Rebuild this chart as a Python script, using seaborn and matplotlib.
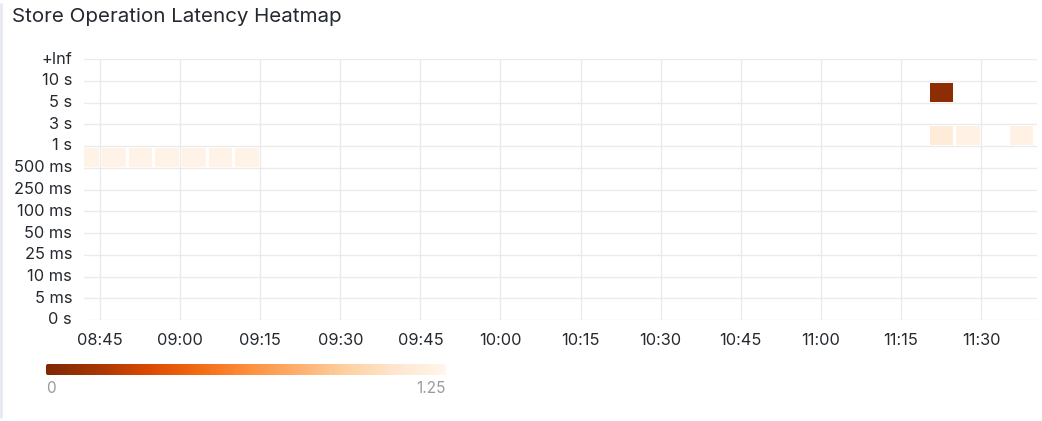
import numpy as np
import pandas as pd
import matplotlib
matplotlib.use("Agg")
import matplotlib.pyplot as plt
from matplotlib.patches import FancyBboxPatch
import seaborn as sns

# ---- data ----
bucket_bounds = ["+Inf", "10 s", "5 s", "3 s", "1 s", "500 ms", "250 ms", "100 ms",
                 "50 ms", "25 ms", "10 ms", "5 ms", "0 s"]
# rows top->bottom: bucket between bound[i+1] and bound[i]
buckets = [f"{bucket_bounds[i+1]}–{bucket_bounds[i]}" for i in range(len(bucket_bounds) - 1)]
time_slots = [f"{h:02d}:{m:02d}" for h in range(8, 12) for m in range(0, 60, 5)
              if "08:40" <= f"{h:02d}:{m:02d}" <= "11:35"]
tick_labels = ["08:45", "09:00", "09:15", "09:30", "09:45", "10:00", "10:15",
               "10:30", "10:45", "11:00", "11:15", "11:30"]

cell_times = ["08:40", "08:45", "08:50", "08:55", "09:00", "09:05", "09:10",
              "11:20", "11:20", "11:25", "11:35"]
cell_buckets = ["500 ms–1 s"] * 7 + ["5 s–10 s", "1 s–3 s", "1 s–3 s", "1 s–3 s"]
cell_values = [1.22, 1.22, 1.22, 1.22, 1.22, 1.22, 1.22, 0.06, 1.15, 1.21, 1.21]
scale_min, scale_max = 0, 1.25

df = pd.DataFrame(np.nan, index=buckets, columns=time_slots)
for t, b, v in zip(cell_times, cell_buckets, cell_values):
    df.loc[b, t] = v

# ---- style ----
sns.set_theme(style="white")
plt.rcParams["font.family"] = ["Inter", "DejaVu Sans"]
text_col = "#24292f"
grid_col = "#ebebeb"

fig = plt.figure(figsize=(10.42, 4.21), dpi=100)
W, H = 1042, 421
ax = fig.add_axes([84 / W, 1 - 320 / H, (1037 - 84) / W, (320 - 59) / H])
cax = fig.add_axes([46 / W, 1 - 375 / H, 400 / W, 11 / H])

sns.heatmap(df, ax=ax, cmap="Oranges_r", vmin=scale_min, vmax=scale_max,
            linewidths=0.75, linecolor="white", cbar_ax=cax,
            cbar_kws={"orientation": "horizontal"})

# only draw the white cell separators around filled cells
mesh = ax.collections[0]
filled = ~np.isnan(df.values.ravel())
edge = np.zeros((filled.size, 4))
edge[filled] = [1, 1, 1, 1]
mesh.set_edgecolor(edge)
mesh.set_zorder(1)

# x axis: time ticks at slot boundaries
slot_index = {t: i for i, t in enumerate(time_slots)}
ax.set_xticks([slot_index[t] for t in tick_labels])
ax.set_xticklabels(tick_labels, rotation=0)
ax.set_xlim(0.4, 36.1)
# y axis: bucket boundaries
ax.set_yticks(range(len(bucket_bounds)))
ax.set_yticklabels(bucket_bounds, rotation=0)
ax.set_ylim(len(buckets), 0)
ax.set_xlabel("")
ax.set_ylabel("")

ax.set_axisbelow(False)
ax.grid(True, color=grid_col, linewidth=1)
for sp in ax.spines.values():
    sp.set_visible(False)
ax.tick_params(axis="both", length=3.6, width=0.75, color=grid_col, labelsize=11.8,
               labelcolor=text_col)
ax.tick_params(axis="y", pad=5)
ax.tick_params(axis="x", pad=5.5)

# colorbar
cb = mesh.colorbar
cb.outline.set_visible(False)
cb.set_ticks([scale_min, scale_max])
cb.set_ticklabels(["0", "1.25"])
cax.tick_params(length=0, labelsize=11, labelcolor="#9a9a9a", pad=4)
labs = cax.get_xticklabels()
labs[0].set_horizontalalignment("left")
labs[1].set_horizontalalignment("right")
clip = FancyBboxPatch((0, 0), 1, 1, boxstyle="round,pad=0,rounding_size=0.006",
                      mutation_aspect=400 / 11, transform=cax.transAxes,
                      facecolor="none", edgecolor="none")
cax.add_patch(clip)
cb.solids.set_clip_path(clip)

# title
fig.text(12 / W, 1 - 17 / H, "Store Operation Latency Heatmap", fontsize=14.8,
         color=text_col, ha="left", va="center")

# panel left border
fig.add_artist(plt.Line2D([1.2 / W, 1.2 / W], [0.01, 0.99], color="#e6e8f4",
                          linewidth=2, transform=fig.transFigure))

fig.savefig("out.png", dpi=100)
